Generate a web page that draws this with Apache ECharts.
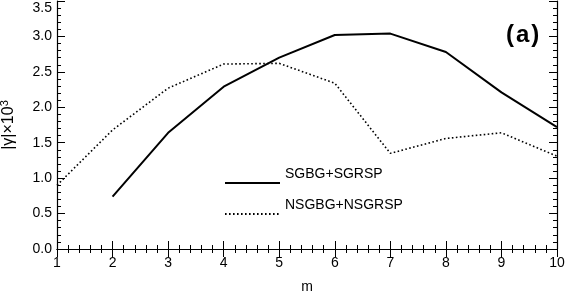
<!DOCTYPE html>
<html>
<head>
<meta charset="utf-8">
<script src="https://cdn.jsdelivr.net/npm/echarts@6/dist/echarts.min.js"></script>
<style>html,body{margin:0;padding:0;background:#fff}#c{width:567px;height:292px}</style>
</head>
<body>
<div id="c"></div>
<script>
const mValues = [1, 2, 3, 4, 5, 6, 7, 8, 9, 10];
const sgbgSgrsp = [null, 0.74, 1.64, 2.29, 2.70, 3.02, 3.04, 2.78, 2.21, 1.72];
const nsgbgNsgrsp = [0.90, 1.68, 2.27, 2.61, 2.62, 2.34, 1.35, 1.56, 1.64, 1.31];
const xTicks = [1, 2, 3, 4, 5, 6, 7, 8, 9, 10];
const yTicks = [0.0, 0.5, 1.0, 1.5, 2.0, 2.5, 3.0, 3.5];

const FONT = 'Liberation Sans';
const pairs = (ys) => mValues.map((m, i) => [m, ys[i]]).filter(p => p[1] !== null);

const chart = echarts.init(document.getElementById('c'), null, {renderer: 'canvas'});
const tickCommon = {
  axisLine: {show: true, lineStyle: {color: '#000', width: 1.2}},
  axisTick: {show: true, inside: true, length: 8, lineStyle: {color: '#000', width: 1}},
  minorTick: {show: true, splitNumber: 5, length: 4, lineStyle: {color: '#000', width: 1}},
  splitLine: {show: false}
};
const legendCommon = {
  itemWidth: 55, itemHeight: 14, itemGap: 0,
  itemStyle: {color: 'transparent', borderColor: 'transparent', borderWidth: 0, opacity: 0},
  formatter: n => '{t|' + n + '}',
  textStyle: {fontFamily: FONT, fontSize: 14, color: '#000',
    rich: {t: {fontFamily: FONT, fontSize: 14, color: '#000', padding: [0, 0, 18, 0]}}}
};
chart.setOption({
  animation: false,
  backgroundColor: '#fff',
  textStyle: {fontFamily: FONT},
  title: {text: '(\u200Aa\u200A)', left: 501, top: 18, textStyle: {fontFamily: FONT, fontSize: 24, fontWeight: 'bold', color: '#000'}},
  grid: {left: 57, right: 10, top: 1, bottom: 43, outerBoundsMode: 'none', containLabel: false},
  legend: [
    Object.assign({data: ['SGBG+SGRSP'], left: 219, top: 162}, legendCommon),
    Object.assign({data: ['NSGBG+NSGRSP'], left: 219, top: 193}, legendCommon)
  ],
  xAxis: [
    Object.assign({type: 'value', min: xTicks[0], max: xTicks[xTicks.length - 1], interval: 1,
      name: 'm', nameLocation: 'middle', nameGap: 31,
      nameTextStyle: {fontFamily: FONT, fontSize: 14, color: '#000'},
      axisLabel: {fontFamily: FONT, fontSize: 14, color: '#000', margin: 7,
        formatter: v => xTicks.includes(v) ? String(v) : ''}}, tickCommon),
    Object.assign({type: 'value', position: 'top', min: 1, max: 10, interval: 1, axisLabel: {show: false}}, tickCommon)
  ],
  yAxis: [
    Object.assign({type: 'value', min: yTicks[0], max: yTicks[yTicks.length - 1], interval: 0.5,
      name: '|γ|×10{s|3}', nameLocation: 'middle', nameGap: 38, nameRotate: 90,
      nameTextStyle: {fontFamily: FONT, fontSize: 16, color: '#000',
        rich: {s: {fontFamily: FONT, fontSize: 11, color: '#000', verticalAlign: 'bottom', padding: [0, 0, 9, 0]}}},
      axisLabel: {fontFamily: FONT, fontSize: 14, color: '#000', margin: 5,
        verticalAlignMaxLabel: 'top',
        formatter: v => v.toFixed(1)}}, tickCommon),
    Object.assign({type: 'value', position: 'right', min: 0, max: 3.5, interval: 0.5, axisLabel: {show: false}}, tickCommon)
  ],
  series: [
    {name: 'SGBG+SGRSP', type: 'line', data: pairs(sgbgSgrsp), symbol: 'none', silent: true,
     lineStyle: {color: '#000', width: 2, type: 'solid'}, itemStyle: {color: '#000'}},
    {name: 'NSGBG+NSGRSP', type: 'line', data: pairs(nsgbgNsgrsp), symbol: 'none', silent: true,
     lineStyle: {color: '#000', width: 1.6, type: [1.6, 2.4]}, itemStyle: {color: '#000'}}
  ]
});
</script>
</body>
</html>
